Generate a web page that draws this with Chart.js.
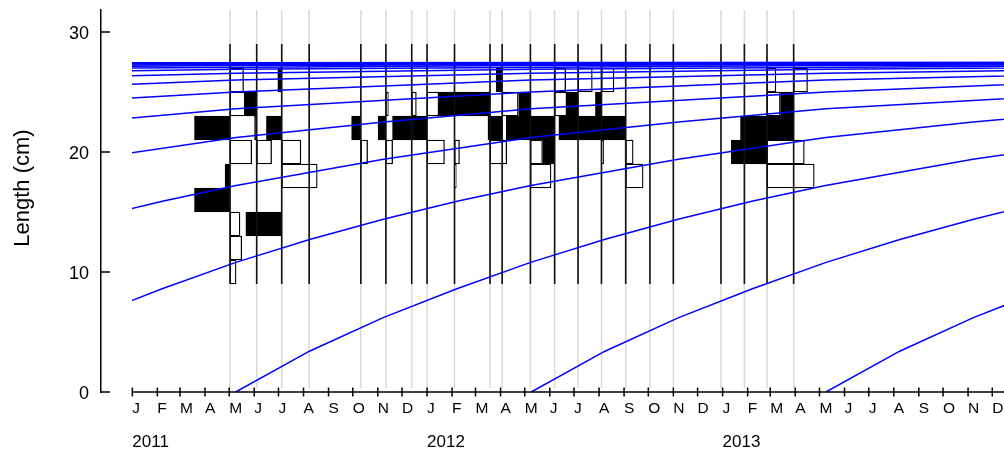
<!DOCTYPE html>
<html>
<head>
<meta charset="utf-8">
<script src="https://cdn.jsdelivr.net/npm/chart.js@4.4.1/dist/chart.umd.min.js"></script>
<style>
  html, body { margin: 0; padding: 0; background: #fff; }
</style>
</head>
<body>
<canvas id="chart" width="1004" height="459"></canvas>
<script>
const monthLetters = ["J", "F", "M", "A", "M", "J", "J", "A", "S", "O", "N", "D"];
const years = [2011, 2012, 2013];
const yTicks = [0, 10, 20, 30];

// length classes (mid points, 2 cm wide)
const lengthBins = [10, 12, 14, 16, 18, 20, 22, 24, 26, 28];

const sampleDates = [
  "2011-05-02", "2011-06-04", "2011-07-05", "2011-08-08", "2011-10-11", "2011-11-11",
  "2011-12-13", "2012-01-01", "2012-02-04", "2012-03-19", "2012-04-03", "2012-05-08",
  "2012-06-07", "2012-07-06", "2012-08-04", "2012-09-03", "2012-10-03", "2012-11-01",
  "2012-12-30", "2013-01-28", "2013-02-25", "2013-03-30"
];

// restructured frequencies per sample, one value per length class
const restructured = [
  [-0.17, -0.33, -0.28, 1.00, 0.14, -0.61, 1.00, -0.42, -0.38, 0],
  [0, 0, 0, 0, 0, -0.42, 0.06, 0.34, 0, 0],
  [0, 0, 1.01, 0, -1.00, -0.54, 0.43, 0, 0.11, 0],
  [0, 0, 0, 0, 0, 0, 0, 0, 0, 0],
  [0, 0, 0, 0, 0, -0.19, 0.26, 0, 0, 0],
  [0, 0, 0, 0, 0, -0.19, 0.22, -0.07, 0, 0],
  [0, 0, 0, 0, 0, 0, 0.54, -0.13, 0, 0],
  [0, 0, 0, 0, 0, -0.49, 0.42, -0.33, 0, 0],
  [0, 0, 0, 0, -0.05, -0.14, 0, 0.44, 0, 0],
  [0, 0, 0, 0, 0, -0.47, 0, 0.99, 0, 0],
  [0, 0, 0, 0, 0, 0.08, 0.40, -0.45, 0.17, 0],
  [0, 0, 0, 0, -0.58, -0.34, 0.68, 0.33, 0, 0],
  [0, 0, 0, 0, 0, 0.33, 0.68, -0.34, -0.31, 0],
  [0, 0, 0, 0, 0, 0, 0.54, 0.33, -0.40, 0],
  [0, 0, 0, 0, 0, -0.06, 0.67, 0.17, -0.35, 0],
  [0, 0, 0, 0, -0.49, -0.21, 0.68, 0, 0, 0],
  [0, 0, 0, 0, 0, 0, 0, 0, 0, 0],
  [0, 0, 0, 0, 0, 0, 0, 0, 0, 0],
  [0, 0, 0, 0, 0, 0, 0, 0, 0, 0],
  [0, 0, 0, 0, 0, 0.37, 0.11, 0, 0, 0],
  [0, 0, 0, 0, -1.33, -1.05, 0.62, -0.37, -0.25, 0],
  [0, 0, 0, 0, 0, 1.37, 0.75, 0.37, -0.39, 0]
];

// growth curve: age (years) -> length (cm)
const growthAge = [0, 0.25, 0.5, 0.75, 1, 1.25, 1.5, 1.75, 2, 2.5, 3, 3.5, 4, 5, 6, 7, 8, 10, 12, 15, 20];
const growthLength = [0, 3.4, 6.2, 8.6, 10.8, 12.7, 14.4, 15.9, 17.2, 19.4, 21.2, 22.5, 23.6, 25.0, 26.0, 26.55, 26.9, 27.2, 27.35, 27.43, 27.47];

const cohortYears = [1995, 1996, 1997, 1998, 1999, 2000, 2001, 2002, 2003, 2004, 2005, 2006, 2007, 2008, 2009, 2010, 2011, 2012, 2013];
const cohortBirth = "05-09";

const HIST_DAYS = 44;     // bar length (days) of one unit
const X_MIN = -38.8, X_MAX = 1079.5, Y_MAX = 31.83;

const day = s => (Date.parse(s) - Date.parse("2011-01-01")) / 864e5;

const monthTicks = [];
years.forEach(y => {
  for (let m = 1; m <= 12; m++) monthTicks.push(day(`${y}-${String(m).padStart(2, "0")}-01`));
});
const yearTicks = years.map(y => day(`${y}-01-01`));

// histogram bars
const blackBars = [], whiteBars = [];
sampleDates.forEach((d, i) => {
  const x0 = day(d);
  restructured[i].forEach((v, j) => {
    if (!v) return;
    const bar = { y: lengthBins[j], x: [x0, x0 - v * HIST_DAYS] };
    (v > 0 ? blackBars : whiteBars).push(bar);
  });
});

const binLow = lengthBins[0] - 1, binHigh = lengthBins[lengthBins.length - 1] + 1;
const sampleLines = sampleDates.flatMap(d => [
  { x: day(d), y: binLow }, { x: day(d), y: binHigh }, { x: day(d), y: null }
]);
const guideLines = sampleDates.flatMap(d => [
  { x: day(d), y: 0.3 }, { x: day(d), y: Y_MAX }, { x: day(d), y: null }
]);

const cohortSets = cohortYears.map(yr => {
  const b = day(`${yr}-${cohortBirth}`);
  return {
    type: "line",
    indexAxis: "x",
    data: growthAge.map((a, k) => ({ x: b + a * 365.25, y: growthLength[k] })),
    borderColor: "#0000ff",
    borderWidth: 1.5,
    pointRadius: 0,
    clip: { left: -31, top: 0, right: 0, bottom: 0 },
    order: 0
  };
});

const axisDecor = {
  id: "axisDecor",
  afterDraw(chart) {
    const { ctx, chartArea: a, scales: { x, y } } = chart;
    ctx.save();
    ctx.strokeStyle = "#000";
    ctx.lineWidth = 1.5;
    ctx.beginPath();
    ctx.moveTo(x.getPixelForValue(0), a.bottom);
    ctx.lineTo(a.right, a.bottom);
    monthTicks.forEach(v => {
      const px = x.getPixelForValue(v);
      ctx.moveTo(px, a.bottom - 4.5);
      ctx.lineTo(px, a.bottom + 4.5);
    });
    yTicks.forEach(v => {
      const py = y.getPixelForValue(v);
      ctx.moveTo(a.left, py);
      ctx.lineTo(a.left + 9, py);
    });
    ctx.stroke();
    ctx.fillStyle = "#000";
    ctx.font = '22px "Liberation Sans", Arial, sans-serif';
    ctx.textAlign = "center";
    ctx.textBaseline = "middle";
    ctx.translate(23, 188);
    ctx.rotate(-Math.PI / 2);
    ctx.fillText("Length (cm)", 0, 0);
    ctx.restore();
  }
};

const font = size => ({ family: '"Liberation Sans", Arial, sans-serif', size });

new Chart(document.getElementById("chart"), {
  type: "line",
  data: {
    datasets: [
      ...cohortSets,
      {
        type: "line", indexAxis: "x", data: sampleLines,
        borderColor: "#111", borderWidth: 1.6, pointRadius: 0, spanGaps: false, order: 1
      },
      {
        type: "bar", indexAxis: "y", data: whiteBars,
        backgroundColor: "#fff", borderColor: "#000", borderWidth: 1.3, borderSkipped: false,
        grouped: false, barPercentage: 1, categoryPercentage: 1, order: 2
      },
      {
        type: "bar", indexAxis: "y", data: blackBars,
        backgroundColor: "#000", borderColor: "#000", borderWidth: 1.3, borderSkipped: false,
        grouped: false, barPercentage: 1, categoryPercentage: 1, order: 3
      },
      {
        type: "line", indexAxis: "x", data: guideLines,
        borderColor: "#dcd9d4", borderWidth: 1.5, pointRadius: 0, spanGaps: false, order: 4
      }
    ]
  },
  options: {
    responsive: false,
    devicePixelRatio: 1,
    animation: false,
    events: [],
    layout: { padding: { top: 10, left: 0, right: 0, bottom: 0 } },
    plugins: { legend: { display: false }, tooltip: { enabled: false } },
    scales: {
      x: {
        type: "linear", position: "bottom", min: X_MIN, max: X_MAX, offset: false,
        grid: { display: false, drawTicks: false },
        border: { display: false },
        afterBuildTicks: s => { s.ticks = monthTicks.map(v => ({ value: v })); },
        afterFit: s => { s.height = 26; s.paddingLeft = 0; s.paddingRight = 0; },
        ticks: {
          autoSkip: false, maxRotation: 0, align: "start", padding: 7,
          color: "#000", font: font(15.5),
          callback: (v, i) => monthLetters[i % 12]
        }
      },
      x2: {
        type: "linear", position: "bottom", min: X_MIN, max: X_MAX, offset: false,
        grid: { display: false, drawTicks: false },
        border: { display: false },
        afterBuildTicks: s => { s.ticks = yearTicks.map(v => ({ value: v })); },
        afterFit: s => { s.height = 41; s.paddingLeft = 0; s.paddingRight = 0; },
        ticks: {
          autoSkip: false, maxRotation: 0, align: "start", padding: 14,
          color: "#000", font: font(17),
          callback: (v, i) => String(years[i])
        }
      },
      y: {
        type: "linear", position: "left", min: 0, max: Y_MAX, offset: false,
        grid: { display: false, drawTicks: false },
        border: { display: true, color: "#000", width: 1.5 },
        afterBuildTicks: s => { s.ticks = yTicks.map(v => ({ value: v })); },
        afterFit: s => { s.width = 101; s.paddingTop = 0; s.paddingBottom = 0; },
        ticks: { padding: 12, labelOffset: 2, color: "#000", font: font(18) }
      }
    }
  },
  plugins: [axisDecor]
});
</script>
</body>
</html>
